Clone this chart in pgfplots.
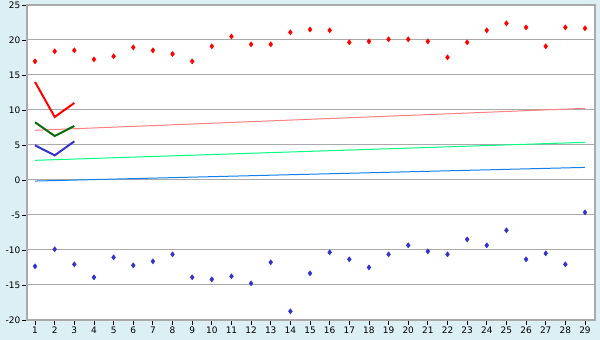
\documentclass[border=0pt]{standalone}
\usepackage{pgfplots}
\pgfplotsset{compat=1.18}
\usepackage{fontspec}
\setmainfont{DejaVu Sans}
\definecolor{bg}{HTML}{DBEFF5}
\definecolor{gridc}{HTML}{AAAAAA}
\definecolor{mblue}{HTML}{3333CC}
\definecolor{tred}{HTML}{FF8080}
\definecolor{tgreen}{HTML}{00FF80}
\definecolor{tblue}{HTML}{1080F0}
\definecolor{dgreen}{HTML}{0B6B0B}
\begin{document}
\begin{tikzpicture}
\fill[bg] (0,0) rectangle (600bp,340bp);
\useasboundingbox (0,0) rectangle (600bp,340bp);
\begin{axis}[
  at={(27bp,20bp)}, anchor=south west,
  scale only axis, width=568bp, height=315bp,
  xmin=0.59, xmax=29.51, ymin=-20, ymax=25,
  xtick={1,...,29}, ytick={-20,-15,...,25},
  xtick pos=bottom, ytick pos=left,
  tick align=outside, major tick length=5bp,
  tick style={black, line width=0.8bp},
  axis line style={gridc, line width=1.2bp},
  ymajorgrids, grid style={gridc, line width=1bp},
  axis background/.style={fill=white},
  font=\fontsize{9}{10}\selectfont,
  /pgf/number format/assume math mode=true,
  yticklabel style={inner sep=1.5bp},
  xticklabel style={inner sep=1.5bp},
  clip=false,
]
\addplot[tred, line width=1bp] coordinates {(1,7.1) (29,10.24)};
\addplot[tgreen, line width=1bp] coordinates {(1,2.81) (29,5.38)};
\addplot[tblue, line width=1bp] coordinates {(1,-0.15) (29,1.8)};
\addplot[red, line width=2bp] coordinates {(1,14) (2,9) (3,11)};
\addplot[dgreen, line width=2bp] coordinates {(1,8.24) (2,6.29) (3,7.71)};
\addplot[mblue, line width=2bp] coordinates {(1,4.95) (2,3.52) (3,5.52)};
\addplot[only marks, mark=diamond*, mark size=2.6bp, red, mark options={fill=red}] coordinates {
(1,16.95) (2,18.38) (3,18.52) (4,17.24) (5,17.67) (6,18.95) (7,18.52) (8,18.0) (9,16.95)
(10,19.1) (11,20.5) (12,19.38) (13,19.38) (14,21.1) (15,21.5) (16,21.38) (17,19.67) (18,19.8) (19,20.1)
(20,20.1) (21,19.8) (22,17.52) (23,19.67) (24,21.38) (25,22.38) (26,21.8) (27,19.1) (28,21.8) (29,21.67)};
\addplot[only marks, mark=diamond*, mark size=2.6bp, mblue, mark options={fill=mblue}] coordinates {
(1,-12.33) (2,-9.9) (3,-12.05) (4,-13.9) (5,-11.05) (6,-12.19) (7,-11.62) (8,-10.62) (9,-13.9)
(10,-14.19) (11,-13.76) (12,-14.76) (13,-11.76) (14,-18.76) (15,-13.33) (16,-10.33) (17,-11.33) (18,-12.48) (19,-10.62)
(20,-9.33) (21,-10.19) (22,-10.62) (23,-8.48) (24,-9.33) (25,-7.19) (26,-11.33) (27,-10.48) (28,-12.05) (29,-4.62)};
\end{axis}
\end{tikzpicture}
\end{document}
